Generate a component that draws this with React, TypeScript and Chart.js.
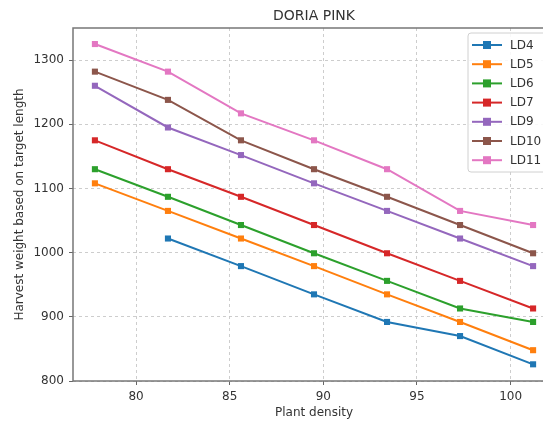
import React, { useEffect, useRef } from "react";
import { Chart, registerables } from "chart.js";

Chart.register(...registerables);

const plantDensity = [77.8, 81.7, 85.6, 89.5, 93.4, 97.3, 101.2];
const seriesNames = ["LD4", "LD5", "LD6", "LD7", "LD9", "LD10", "LD11"];
const ld4 = [null, 1022, 979, 935, 892, 870, 826];
const ld5 = [1108, 1065, 1022, 979, 935, 892, 848];
const ld6 = [1130, 1087, 1043, 999, 956, 913, 892];
const ld7 = [1175, 1130, 1087, 1043, 999, 956, 913];
const ld9 = [1260, 1195, 1152, 1108, 1065, 1022, 979];
const ld10 = [1282, 1238, 1175, 1130, 1087, 1043, 999];
const ld11 = [1325, 1282, 1217, 1175, 1130, 1065, 1043];
const seriesValues = [ld4, ld5, ld6, ld7, ld9, ld10, ld11];
const colors = ["#1f77b4", "#ff7f0e", "#2ca02c", "#d62728", "#9467bd", "#8c564b", "#e377c2"];
const xTicks = [80, 85, 90, 95, 100];
const yTicks = [800, 900, 1000, 1100, 1200, 1300];
const chartTitle = "DORIA PINK";
const xLabel = "Plant density";
const yLabel = "Harvest weight based on target length";

const FONT = "'DejaVu Sans', sans-serif";
const TEXT = "#333";

const framePlugin = {
  id: "frameAndLegend",
  afterDraw(chart: any) {
    const { ctx, chartArea } = chart;
    ctx.save();
    ctx.strokeStyle = "#777";
    ctx.lineWidth = 1.5;
    ctx.strokeRect(chartArea.left, chartArea.top, chartArea.right - chartArea.left, chartArea.bottom - chartArea.top);
    ctx.fillStyle = TEXT;
    ctx.font = `14px ${FONT}`;
    ctx.textAlign = "center";
    ctx.textBaseline = "middle";
    ctx.fillText(chartTitle, (chartArea.left + chartArea.right) / 2, 16);
    const bx = 468, by = 33, bw = chartArea.right - 5 - bx, bh = 139;
    ctx.fillStyle = "rgba(255,255,255,0.85)";
    ctx.strokeStyle = "#d0d0d0";
    ctx.lineWidth = 1;
    ctx.beginPath();
    if ((ctx as any).roundRect) (ctx as any).roundRect(bx, by, bw, bh, 3);
    else ctx.rect(bx, by, bw, bh);
    ctx.fill();
    ctx.stroke();
    chart.data.datasets.forEach((ds: any, i: number) => {
      const y = 45 + i * 19.2;
      ctx.strokeStyle = ds.borderColor;
      ctx.lineWidth = 2;
      ctx.beginPath();
      ctx.moveTo(472, y);
      ctx.lineTo(502, y);
      ctx.stroke();
      ctx.fillStyle = ds.backgroundColor;
      ctx.fillRect(487 - 4, y - 4, 8, 8);
      ctx.fillStyle = TEXT;
      ctx.font = `12px ${FONT}`;
      ctx.textAlign = "left";
      ctx.textBaseline = "middle";
      ctx.fillText(ds.label, 510, y + 0.5);
    });
    ctx.restore();
  },
};

export default function App() {
  const ref = useRef<HTMLCanvasElement>(null);
  useEffect(() => {
    document.body.style.margin = "0";
    const chart = new Chart(ref.current!, {
      type: "line",
      data: {
        datasets: seriesNames.map((name, i) => ({
          label: name,
          data: plantDensity.map((x, j) => ({ x, y: seriesValues[i][j] as any })),
          borderColor: colors[i],
          backgroundColor: colors[i],
          borderWidth: 2,
          pointStyle: "rect",
          pointRadius: 4.3,
          pointBorderWidth: 0,
          spanGaps: false,
        })),
      },
      options: {
        responsive: false,
        animation: false,
        layout: { padding: { top: 28, right: 5, left: 0, bottom: 0 } },
        plugins: { legend: { display: false }, title: { display: false }, tooltip: { enabled: false } },
        scales: {
          x: {
            type: "linear",
            min: 76.63,
            max: 102.37,
            afterBuildTicks: (s: any) => { s.ticks = xTicks.map((v) => ({ value: v })); },
            afterFit: (s: any) => { s.height = 41; },
            ticks: { color: TEXT, font: { family: FONT, size: 12 }, padding: 5, callback: (v: any) => String(v) },
            grid: { color: "#c8c8c8", lineWidth: 0.9, drawTicks: true, tickLength: 4, tickColor: "#555", tickBorderDash: [] as any },
            border: { display: false, dash: [3, 3] },
            title: { display: true, text: xLabel, color: TEXT, font: { family: FONT, size: 12 }, padding: { top: 0, bottom: 2 } },
          },
          y: {
            type: "linear",
            min: 800,
            max: 1350,
            afterBuildTicks: (s: any) => { s.ticks = yTicks.map((v) => ({ value: v })); },
            afterFit: (s: any) => { s.width = 73; },
            ticks: { color: TEXT, font: { family: FONT, size: 12 }, padding: 5, callback: (v: any) => String(v) },
            grid: { color: "#c8c8c8", lineWidth: 0.9, drawTicks: true, tickLength: 4, tickColor: "#555", tickBorderDash: [] as any },
            border: { display: false, dash: [3, 3] },
            title: { display: true, text: yLabel, color: TEXT, font: { family: FONT, size: 12 }, padding: { top: 13, bottom: 0 } },
          },
        },
      },
      plugins: [framePlugin],
    });
    return () => chart.destroy();
  }, []);
  return (
    <div style={{ position: "fixed", left: 0, top: 0, width: 543, height: 422, overflow: "hidden", background: "#fff" }}>
      <canvas ref={ref} width={560} height={422} style={{ display: "block" }} />
    </div>
  );
}
